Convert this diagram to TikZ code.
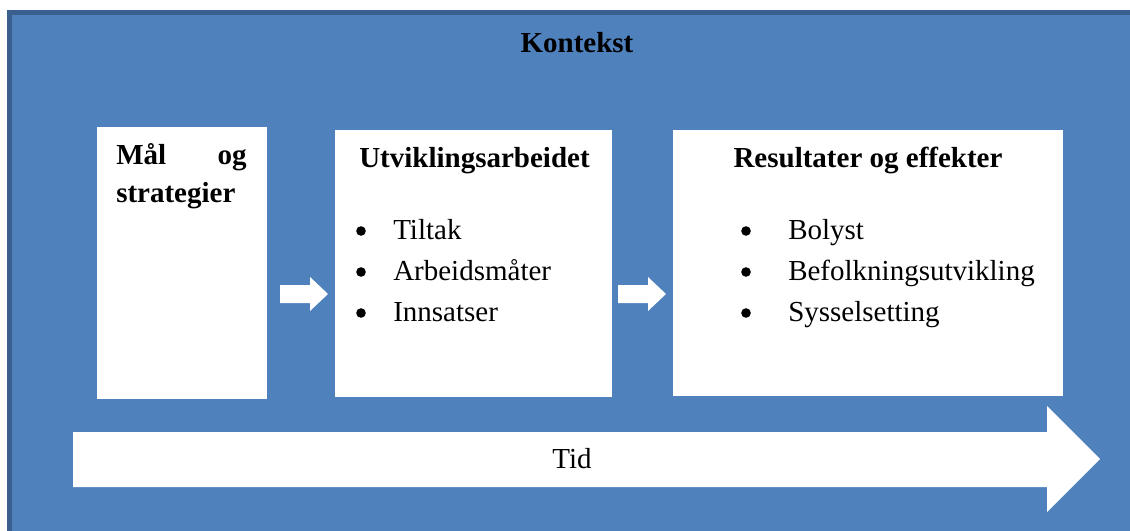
\documentclass[tikz,border=0pt]{standalone}
\usepackage{fontspec}
\setmainfont{Liberation Serif}
\begin{document}
\begin{tikzpicture}[x=0.75pt,y=-0.75pt,
  txt/.style={inner sep=0pt,font=\fontsize{21.75}{26}\selectfont},
  head/.style={txt,font=\fontsize{21.75}{26}\selectfont\bfseries},
  dot/.style={circle,fill=black,inner sep=0pt,minimum size=7.2pt},
  panel/.style={fill=white,draw=none},
  blockarrow/.style={fill=white,draw=none}]
\useasboundingbox (0,0) rectangle (1130,531);
\clip (0,0) rectangle (1130,531);
\definecolor{ctxblue}{HTML}{4F81BD}
\definecolor{ctxedge}{HTML}{3A5F8E}
\fill[white] (0,0) rectangle (1130,531);
% context frame
\draw[fill=ctxblue,draw=ctxedge,line width=3.75pt] (9.5,12.5) rectangle (1140,545);
\node[head,anchor=base] (kontekst) at (577,53) {Kontekst};

% panels
\fill[panel] (97,127) rectangle (267,399);
\fill[panel] (335,130) rectangle (612,397);
\fill[panel] (673,130) rectangle (1063,396);

% goals
\node[head,anchor=base west] (maal) at (116,165) {Mål};
\node[head,anchor=base east] (og) at (247,165) {og};
\node[head,anchor=base west] (strat) at (116,202) {strategier};

% development work
\node[head,anchor=base] (utv) at (474.5,167) {Utviklingsarbeidet};
\foreach \t/\y [count=\i] in {Tiltak/239,Arbeidsmåter/280,Innsatser/321}{
  \node[dot] (ub\i) at (361,\y-8) {};
  \node[txt,anchor=base west] (ut\i) at (393,\y) {\t};
}

% results
\node[head,anchor=base] (res) at (868,167) {Resultater og effekter};
\foreach \t/\y [count=\i] in {Bolyst/239,Befolkningsutvikling/280,Sysselsetting/321}{
  \node[dot] (rb\i) at (746,\y-8) {};
  \node[txt,anchor=base west] (rt\i) at (788,\y) {\t};
}

% small block arrows between panels
\foreach \dx in {0,338}{
  \fill[blockarrow,xshift=\dx*0.75pt] (280,285) -- (310,285) -- (310,277) -- (328,294)
     -- (310,311) -- (310,303) -- (280,303) -- cycle;
}

% time arrow
\fill[blockarrow] (73,432) -- (1047,432) -- (1047,406) -- (1100,459) -- (1047,512)
   -- (1047,487) -- (73,487) -- cycle;
\node[txt,anchor=base] (tid) at (572,468) {Tid};
\end{tikzpicture}
\end{document}
